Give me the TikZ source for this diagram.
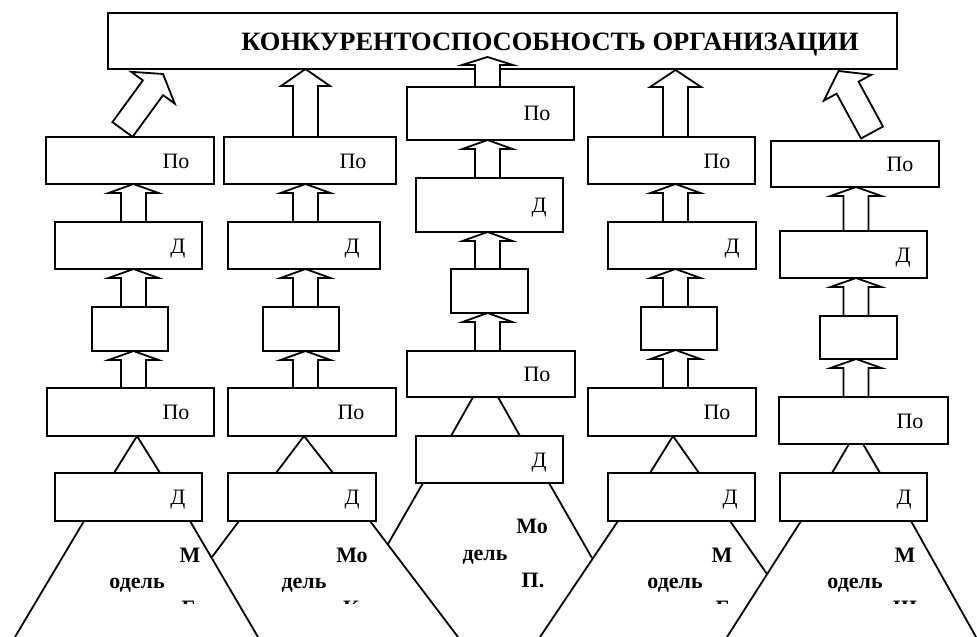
\documentclass[tikz,border=0pt]{standalone}
\usepackage{fontspec}
\setmainfont{Liberation Serif}
\usetikzlibrary{calc}

\tikzset{
  box/.style={draw, fill=white, line width=2pt, inner sep=0pt, outer sep=0pt},
  blockarrow/.style={draw, fill=white, line width=1.8pt, line join=miter},
  cone/.style={line width=1.8pt},
  lbl/.style={font=\fontsize{22}{26}\selectfont, inner sep=0pt, anchor=base},
  mlbl/.style={font=\fontsize{22}{26}\selectfont\bfseries, inner sep=0pt, anchor=base},
  ttl/.style={font=\fontsize{26.5}{30}\selectfont\bfseries, inner sep=0pt, anchor=base},
}

% rectangle node from its corners: name, x1, y1, x2, y2
\newcommand\mkbox[5]{%
  \node[box, minimum width={#4-#2}, minimum height={#5-#3}] (#1) at ({(#2+#4)/2},{(#3+#5)/2}) {};}

% hollow block arrow: tail, tip, head length, half head width
\newcommand\blockarr[4]{%
  \coordinate (ba-t) at #1;
  \coordinate (ba-p) at #2;
  \coordinate (ba-h) at ($(ba-p)!#3!(ba-t)$);
  \draw[blockarrow]
    ($(ba-t)!12.5pt!90:(ba-p)$) -- ($(ba-h)!12.5pt!90:(ba-p)$) --
    ($(ba-h)!#4!90:(ba-p)$) -- (ba-p) -- ($(ba-h)!#4!-90:(ba-p)$) --
    ($(ba-h)!12.5pt!-90:(ba-p)$) -- ($(ba-t)!12.5pt!-90:(ba-p)$) -- cycle;}

\begin{document}
\begin{tikzpicture}[x=1pt,y=-1pt]
\useasboundingbox (0,0) rectangle (977,637);
\fill[white] (0,0) rectangle (977,637);

% model cones under the lowest boxes
\draw[cone] (84,521) -- (15,637);
\draw[cone] (190,521) -- (258,637);
\draw[cone] (239,521) -- (212,557);
\draw[cone] (370,521) -- (458,637);
\draw[cone] (423,483) -- (388,544);
\draw[cone] (549,483) -- (592,558);
\draw[cone] (618,521) -- (540,637);
\draw[cone] (730,521) -- (767,574);
\draw[cone] (801,521) -- (727,637);
\draw[cone] (911,521) -- (976,637);

% links between the two lowest boxes of each column
\draw[cone] (114,473) -- (137,436) -- (160,473);
\draw[cone] (276,473) -- (304,436) -- (333,473);
\draw[cone] (451,436) -- (485.5,375) -- (520,436);
\draw[cone] (650,473) -- (673,436) -- (699,473);
\draw[cone] (832,473) -- (856,432) -- (880,473);

% top box
\mkbox{T}{108}{13}{897}{69}

% column 1
\mkbox{P1a}{46}{137}{214}{184}
\mkbox{D1a}{55}{222}{202}{269}
\mkbox{S1}{92}{307}{168}{351}
\mkbox{P1b}{47}{388}{214}{436}
\mkbox{D1b}{55}{473}{202}{521}
% column 2
\mkbox{P2a}{224}{137}{396}{184}
\mkbox{D2a}{228}{222}{380}{269}
\mkbox{S2}{263}{307}{339}{351}
\mkbox{P2b}{228}{388}{396}{436}
\mkbox{D2b}{228}{473}{376}{521}
% column 3
\mkbox{P3a}{407}{87}{574}{140}
\mkbox{D3a}{416}{178}{563}{232}
\mkbox{S3}{451}{269}{528}{313}
\mkbox{P3b}{407}{351}{575}{397}
\mkbox{D3b}{416}{436}{563}{483}
% column 4
\mkbox{P4a}{588}{137}{755}{184}
\mkbox{D4a}{608}{222}{756}{269}
\mkbox{S4}{641}{307}{717}{350}
\mkbox{P4b}{588}{388}{756}{436}
\mkbox{D4b}{608}{473}{755}{521}
% column 5
\mkbox{P5a}{771}{141}{939}{187}
\mkbox{D5a}{780}{231}{927}{278}
\mkbox{S5}{820}{316}{897}{359}
\mkbox{P5b}{779}{397}{948}{444}
\mkbox{D5b}{780}{473}{927}{521}

% arrows, column 1
\blockarr{(133.5,0 |- P1b.north)}{(133.5,0 |- S1.south)}{9pt}{25pt}
\blockarr{(133.5,0 |- S1.north)}{(133.5,0 |- D1a.south)}{9pt}{25pt}
\blockarr{(133.5,0 |- D1a.north)}{(133.5,0 |- P1a.south)}{9pt}{25pt}
\blockarr{($(P1a.north)+(-7.5,-7.5)$)}{($(T.south west)+(55,5)$)}{17pt}{27pt}
% arrows, column 2
\blockarr{(305.5,0 |- P2b.north)}{(305.5,0 |- S2.south)}{9pt}{25pt}
\blockarr{(305.5,0 |- S2.north)}{(305.5,0 |- D2a.south)}{9pt}{25pt}
\blockarr{(305.5,0 |- D2a.north)}{(305.5,0 |- P2a.south)}{9pt}{25pt}
\blockarr{(305.5,0 |- P2a.north)}{(305.5,0 |- T.south)}{17pt}{24.5pt}
% arrows, column 3
\blockarr{(487.5,0 |- P3b.north)}{(487.5,0 |- S3.south)}{9pt}{25pt}
\blockarr{(487.5,0 |- S3.north)}{(487.5,0 |- D3a.south)}{9pt}{25pt}
\blockarr{(487.5,0 |- D3a.north)}{(487.5,0 |- P3a.south)}{9pt}{25pt}
\blockarr{(487.5,0 |- P3a.north)}{($(487.5,0 |- T.south)+(0,-12)$)}{8pt}{25.5pt}
% arrows, column 4
\blockarr{(675.5,0 |- P4b.north)}{(675.5,0 |- S4.south)}{9pt}{25pt}
\blockarr{(675.5,0 |- S4.north)}{(675.5,0 |- D4a.south)}{9pt}{25pt}
\blockarr{(675.5,0 |- D4a.north)}{(675.5,0 |- P4a.south)}{9pt}{25pt}
\blockarr{(675.5,0 |- P4a.north)}{($(675.5,0 |- T.south)+(0,1)$)}{17pt}{25.5pt}
% arrows, column 5
\blockarr{(856,0 |- P5b.north)}{(856,0 |- S5.south)}{9pt}{25.5pt}
\blockarr{(856,0 |- S5.north)}{(856,0 |- D5a.south)}{9pt}{25.5pt}
\blockarr{(856,0 |- D5a.north)}{(856,0 |- P5a.south)}{9pt}{25.5pt}
\blockarr{($(P5a.north)+(17,-8.5)$)}{($(T.south east)+(-58.5,2)$)}{19pt}{27pt}

% title
\node[ttl] (title) at (550,50) {КОНКУРЕНТОСПОСОБНОСТЬ ОРГАНИЗАЦИИ};

% box labels
\node[lbl] (l1a) at (176,168) {По};
\node[lbl] (l1b) at (178,253) {Д};
\node[lbl] (l1c) at (176,419) {По};
\node[lbl] (l1d) at (178,504) {Д};
\node[lbl] (l2a) at (353,168) {По};
\node[lbl] (l2b) at (352,253) {Д};
\node[lbl] (l2c) at (351,419) {По};
\node[lbl] (l2d) at (352,504) {Д};
\node[lbl] (l3a) at (537,120) {По};
\node[lbl] (l3b) at (539,212) {Д};
\node[lbl] (l3c) at (537,381) {По};
\node[lbl] (l3d) at (539,467) {Д};
\node[lbl] (l4a) at (717,168) {По};
\node[lbl] (l4b) at (732,253) {Д};
\node[lbl] (l4c) at (717,419) {По};
\node[lbl] (l4d) at (730,504) {Д};
\node[lbl] (l5a) at (900,171) {По};
\node[lbl] (l5b) at (903,262) {Д};
\node[lbl] (l5c) at (910,428) {По};
\node[lbl] (l5d) at (904,504) {Д};

% model captions
\node[mlbl] (m1a) at (190,562) {М};
\node[mlbl] (m1b) at (137,588) {одель};
\node[mlbl] (m2a) at (352,562) {Мо};
\node[mlbl] (m2b) at (304,588) {дель};
\node[mlbl] (m3a) at (532,533) {Мо};
\node[mlbl] (m3b) at (485,560) {дель};
\node[mlbl] (m3c) at (533,587) {П.};
\node[mlbl] (m4a) at (722,562) {М};
\node[mlbl] (m4b) at (675,588) {одель};
\node[mlbl] (m5a) at (905,562) {М};
\node[mlbl] (m5b) at (855,588) {одель};
% the captions' third lines are cut off by their frames
\begin{scope}
  \clip (0,0) rectangle (977,603);
  \node[mlbl] (m1c) at (189,615) {Б};
  \node[mlbl] (m2c) at (351,615) {К};
  \node[mlbl] (m4c) at (723,615) {Б};
  \node[mlbl] (m5c) at (905,615) {Ш};
\end{scope}
\end{tikzpicture}
\end{document}
